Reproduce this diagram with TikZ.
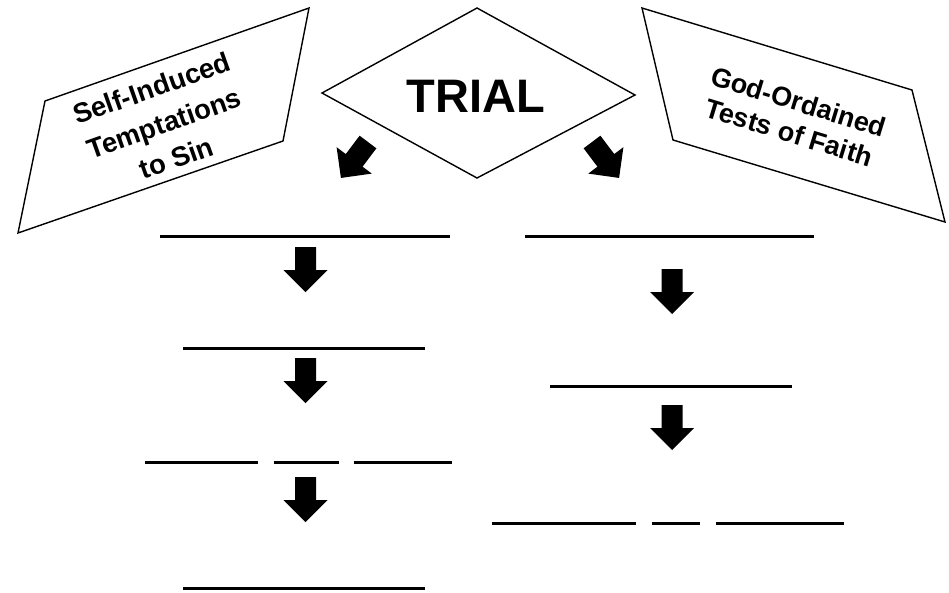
\documentclass[tikz,border=0pt]{standalone}
\usepackage{fontspec}
\setmainfont{Liberation Sans}
\tikzset{
  outline/.style={line width=1.4pt, line join=miter},
  blank/.style={line width=3pt},
  label/.style={align=center, inner sep=0pt, font=\bfseries},
  blockarrow/.pic={code={%
      % shaft and head, tail centre at the origin, pointing down
      \fill (-10.5,0) -- (10.5,0) -- (10.5,23) -- (22,23) -- (0,45)
        -- (-22,23) -- (-10.5,23) -- cycle;
  }}
}

\begin{document}
\begin{tikzpicture}[x=1pt, y=-1pt]
    \useasboundingbox (0,0) rectangle (949,592);

    % coordinates of the three boxes
    \coordinate (SL1) at (18,233);
    \coordinate (SL2) at (283,141);
    \coordinate (SL3) at (309,8);
    \coordinate (SL4) at (45,101);
    \coordinate (GR1) at (642,8);
    \coordinate (GR2) at (912,90);
    \coordinate (GR3) at (945,222);
    \coordinate (GR4) at (673,140);
    \coordinate (T1) at (477,8);
    \coordinate (T2) at (635,95);
    \coordinate (T3) at (477,178);
    \coordinate (T4) at (322,93);

    % draw boxes
    \draw [outline] (SL1) -- (SL2) -- (SL3) -- (SL4) -- cycle;
    \draw [outline] (GR1) -- (GR2) -- (GR3) -- (GR4) -- cycle;
    \draw [outline] (T1) -- (T2) -- (T3) -- (T4) -- cycle;

    % add labels
    \node [label, font=\bfseries\fontsize{47}{50}\selectfont] (trial) at (476,96) {TRIAL};
    \node [label, rotate=19.5, font=\bfseries\fontsize{27.5}{37}\selectfont] (self) at (164,123)
      {Self-Induced\\Temptations\\to Sin};
    \node [label, rotate=-17, font=\bfseries\fontsize{27}{32}\selectfont] (god) at (794,117)
      {God-Ordained\\Tests of Faith};

    % arrows out of the diamond
    \path (368,142) pic [rotate=-37] {blockarrow};
    \path (592,142) pic [rotate=37] {blockarrow};

    % left column
    \draw [blank] (160,236) -- (450,236);
    \path (305.5,247) pic {blockarrow};
    \draw [blank] (183,348) -- (425,348);
    \path (305.5,358) pic {blockarrow};
    \draw [blank] (145,462) -- (258,462);
    \draw [blank] (274,462) -- (339,462);
    \draw [blank] (354,462) -- (452,462);
    \path (305.5,477) pic {blockarrow};
    \draw [blank] (183,588) -- (425,588);

    % right column
    \draw [blank] (525,236) -- (814,236);
    \path (672,269) pic {blockarrow};
    \draw [blank] (550,386) -- (792,386);
    \path (672,405) pic {blockarrow};
    \draw [blank] (492,523) -- (636,523);
    \draw [blank] (652,523) -- (700,523);
    \draw [blank] (716,523) -- (844,523);
\end{tikzpicture}
\end{document}
